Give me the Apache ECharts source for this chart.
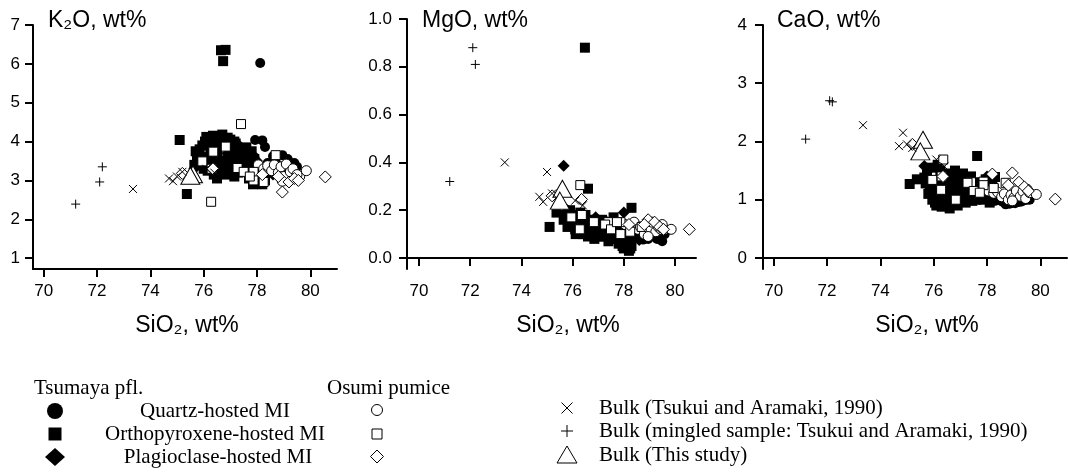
<!DOCTYPE html>
<html><head><meta charset="utf-8">
<script src="https://cdn.jsdelivr.net/npm/echarts@6/dist/echarts.min.js"></script>
<style>html,body{margin:0;padding:0;background:#fff}#c{width:1068px;height:475px}</style>
</head><body><div id="c"></div>
<script>
// ---- Tsumaya pfl. : quartz-hosted MI (filled circles)
const qtz_SiO2 = [78.12, 77.93, 78.20, 78.30, 78.60, 78.95, 79.15, 79.50, 77.50, 77.70, 77.90, 78.05, 78.40, 78.55, 78.75, 78.85, 79.05, 79.30, 79.40, 79.60, 78.25, 77.60, 78.70, 79.20];
const qtz_K2O  = [6.02, 4.04, 4.03, 3.86, 3.62, 3.65, 3.55, 3.35, 3.50, 3.35, 3.60, 3.25, 3.45, 3.20, 3.40, 3.10, 3.30, 3.15, 3.45, 3.10, 3.00, 3.80, 3.55, 3.25];
const qtz_MgO  = [0.10, 0.12, 0.11, 0.09, 0.10, 0.08, 0.09, 0.07, 0.13, 0.12, 0.11, 0.09, 0.08, 0.10, 0.077, 0.09, 0.10, 0.08, 0.09, 0.10, 0.12, 0.14, 0.11, 0.12];
const qtz_CaO  = [1.00, 1.05, 1.02, 0.98, 0.96, 0.95, 0.97, 1.00, 1.10, 1.08, 1.06, 1.03, 1.00, 0.98, 0.95, 0.93, 0.94, 0.97, 0.99, 1.00, 1.05, 1.12, 0.92, 0.96];

// ---- orthopyroxene-hosted MI (filled squares)
const opx_SiO2 = [75.10, 75.37, 76.65, 76.82, 76.73, 76.48, 77.63, 76.60, 78.30, 75.75, 75.85, 75.95, 76.05, 76.10, 76.20, 76.25, 76.30, 76.35, 76.40, 76.45, 76.55, 76.60, 76.70, 76.75, 76.80, 76.85, 76.90, 77.00, 77.05, 77.10, 77.20, 77.25, 77.30, 77.40, 77.45, 77.55, 77.65, 77.70, 77.80, 77.85, 77.95, 78.00, 78.10, 78.20, 78.30, 75.90, 76.15, 76.50, 77.15, 77.60,
                  75.65, 75.80, 76.00, 76.12, 76.28, 76.38, 76.52, 76.66, 76.78, 76.95, 77.08, 77.22, 77.35, 77.50, 77.75, 77.90, 78.05, 78.15, 78.25, 76.20, 76.90, 77.15, 76.40, 75.70];
const opx_K2O  = [4.04, 2.65, 6.35, 6.36, 6.07, 3.60, 3.30, 3.50, 3.05, 3.65, 3.80, 3.90, 4.00, 4.12, 3.95, 3.70, 3.50, 4.15, 3.30, 3.85, 4.10, 3.20, 4.18, 3.45, 3.90, 3.15, 3.60, 4.05, 3.35, 3.75, 3.95, 3.50, 3.20, 3.60, 3.40, 3.25, 3.55, 3.05, 3.75, 2.90, 3.15, 2.95, 3.30, 2.90, 3.00, 3.40, 3.25, 3.05, 3.10, 3.85,
                  3.40, 3.55, 3.30, 3.60, 3.85, 3.15, 3.70, 3.95, 3.30, 3.85, 3.55, 3.30, 3.80, 3.65, 3.40, 3.55, 3.10, 2.95, 3.20, 4.05, 4.10, 4.00, 3.95, 3.75];
const opx_MgO  = [0.13, 0.19, 0.15, 0.12, 0.13, 0.88, 0.11, 0.29, 0.21, 0.17, 0.15, 0.14, 0.18, 0.12, 0.16, 0.11, 0.19, 0.13, 0.10, 0.15, 0.12, 0.09, 0.14, 0.11, 0.16, 0.08, 0.13, 0.10, 0.15, 0.12, 0.09, 0.14, 0.11, 0.07, 0.13, 0.10, 0.08, 0.12, 0.06, 0.09, 0.05, 0.04, 0.07, 0.03, 0.05, 0.20, 0.17, 0.18, 0.16, 0.17,
                  0.16, 0.13, 0.15, 0.10, 0.14, 0.12, 0.10, 0.13, 0.12, 0.11, 0.09, 0.13, 0.10, 0.09, 0.08, 0.07, 0.06, 0.08, 0.04, 0.17, 0.15, 0.11, 0.14, 0.18];
const opx_CaO  = [1.27, 1.35, 1.10, 1.05, 1.20, 1.30, 1.75, 1.45, 1.39, 1.45, 1.20, 1.00, 0.95, 0.90, 1.30, 1.50, 0.88, 1.40, 1.10, 0.95, 1.25, 0.85, 1.35, 0.95, 1.50, 1.15, 0.90, 1.30, 1.00, 1.45, 0.95, 1.20, 1.05, 1.40, 0.98, 1.15, 1.30, 1.02, 1.20, 1.00, 1.35, 1.10, 0.95, 1.25, 1.05, 1.55, 1.60, 1.05, 1.10, 1.00,
                  1.38, 1.10, 1.25, 1.15, 1.02, 1.35, 0.92, 1.20, 1.08, 1.22, 1.35, 1.12, 1.25, 1.05, 1.10, 1.28, 1.15, 1.05, 1.18, 1.05, 1.40, 1.30, 0.98, 1.28];

// ---- plagioclase-hosted MI (filled diamonds)
const plg_SiO2 = [75.65, 77.37, 78.00, 76.90, 75.80, 78.60];
const plg_K2O  = [3.30, 3.87, 3.50, 3.70, 3.55, 3.15];
const plg_MgO  = [0.386, 0.15, 0.19, 0.17, 0.20, 0.075];
const plg_CaO  = [1.58, 1.35, 1.40, 1.45, 1.50, 1.05];

// ---- Osumi pumice : open circles
const osc_SiO2 = [78.05, 78.25, 78.40, 78.55, 78.65, 78.80, 78.90, 79.00, 79.10, 79.25, 79.35, 79.45, 79.60, 79.85, 78.95, 79.50];
const osc_K2O  = [3.40, 3.30, 3.38, 3.25, 3.40, 3.20, 3.35, 3.10, 3.42, 3.22, 3.30, 3.05, 3.10, 3.25, 2.98, 3.15];
const osc_MgO  = [0.14, 0.11, 0.15, 0.12, 0.13, 0.10, 0.14, 0.12, 0.15, 0.11, 0.13, 0.12, 0.12, 0.12, 0.09, 0.14];
const osc_CaO  = [1.15, 1.11, 1.13, 1.05, 1.10, 1.00, 1.08, 1.03, 1.15, 1.06, 1.14, 1.02, 1.12, 1.09, 0.98, 1.18];

// ---- Osumi pumice : open squares
const oss_SiO2 = [77.40, 76.28, 76.83, 76.36, 75.95, 77.27, 77.50, 77.87, 78.25, 77.87, 78.70, 76.30, 77.73];
const oss_K2O  = [4.45, 2.45, 3.87, 3.74, 3.49, 3.32, 3.22, 3.22, 2.96, 3.00, 3.65, 3.30, 3.10];
const oss_MgO  = [0.15, 0.12, 0.15, 0.18, 0.17, 0.14, 0.12, 0.15, 0.11, 0.10, 0.13, 0.305, 0.15];
const oss_CaO  = [1.30, 1.17, 1.00, 1.69, 1.34, 1.29, 1.15, 1.31, 1.20, 1.25, 1.29, 1.40, 1.12];

// ---- Osumi pumice : open diamonds
const osd_SiO2 = [80.56, 78.95, 79.20, 76.35, 75.20, 78.20, 79.40, 79.55, 78.80];
const osd_K2O  = [3.09, 2.70, 2.96, 3.30, 3.18, 3.15, 3.05, 3.00, 3.10];
const osd_MgO  = [0.12, 0.16, 0.15, 0.245, 0.26, 0.14, 0.13, 0.12, 0.14];
const osd_CaO  = [1.01, 1.46, 1.30, 1.40, 1.95, 1.44, 1.22, 1.15, 1.25];

// ---- Bulk (This study) : open triangles
const bts_SiO2 = [75.60, 75.50];
const bts_K2O  = [3.16, 3.12];
const bts_MgO  = [0.29, 0.24];
const bts_CaO  = [2.03, 1.83];

// ---- Bulk (Tsukui and Aramaki, 1990) : crosses
const tsk_SiO2 = [73.35, 74.70, 74.85, 75.00, 75.20, 76.10, 76.40];
const tsk_K2O  = [2.78, 3.05, 2.98, 3.10, 3.22, 3.30, 3.20];
const tsk_MgO  = [0.40, 0.256, 0.235, 0.36, 0.27, 0.24, 0.22];
const tsk_CaO  = [2.28, 1.92, 2.15, 1.95, 1.89, 1.69, 1.57];

// ---- Bulk (mingled sample) : plus
const mng_SiO2 = [71.20, 72.10, 72.20];
const mng_K2O  = [2.39, 2.96, 3.35];
const mng_MgO  = [0.32, 0.88, 0.81];
const mng_CaO  = [2.04, 2.70, 2.68];

// ---- axes ticks
const xTicks = [70, 72, 74, 76, 78, 80];
const yTicksK2O = [1, 2, 3, 4, 5, 6, 7];
const yTicksMgO = [0.0, 0.2, 0.4, 0.6, 0.8, 1.0];
const yTicksCaO = [0, 1, 2, 3, 4];
const panelTitles = ['K\u2082O, wt%', 'MgO, wt%', 'CaO, wt%'];
const xName = 'SiO\u2082, wt%';

const SANS = '"Liberation Sans", Arial, sans-serif';
const SERIF = '"Liberation Serif", "Times New Roman", serif';

const groups = [
  {x: opx_SiO2, y: [opx_K2O, opx_MgO, opx_CaO], symbol: 'rect', size: 10, fill: '#000', stroke: '#000', bw: 0},
  {x: qtz_SiO2, y: [qtz_K2O, qtz_MgO, qtz_CaO], symbol: 'circle', size: 10, fill: '#000', stroke: '#000', bw: 0},
  {x: plg_SiO2, y: [plg_K2O, plg_MgO, plg_CaO], symbol: 'diamond', size: 12, fill: '#000', stroke: '#000', bw: 0},
  {x: osc_SiO2, y: [osc_K2O, osc_MgO, osc_CaO], symbol: 'circle', size: 10, fill: '#fff', stroke: '#000', bw: 1},
  {x: oss_SiO2, y: [oss_K2O, oss_MgO, oss_CaO], symbol: 'rect', size: 9, fill: '#fff', stroke: '#000', bw: 1},
  {x: osd_SiO2, y: [osd_K2O, osd_MgO, osd_CaO], symbol: 'diamond', size: 12, fill: '#fff', stroke: '#000', bw: 1},
  {x: bts_SiO2, y: [bts_K2O, bts_MgO, bts_CaO], symbol: 'triangle', size: [19, 17], fill: '#fff', stroke: '#000', bw: 1},
  {x: tsk_SiO2, y: [tsk_K2O, tsk_MgO, tsk_CaO], symbol: 'path://M0,0L10,10M10,0L0,10', size: 8, fill: 'transparent', stroke: '#000', bw: 1},
  {x: mng_SiO2, y: [mng_K2O, mng_MgO, mng_CaO], symbol: 'path://M5,0L5,10M0,5L10,5', size: 9, fill: 'transparent', stroke: '#000', bw: 1}
];

const grids = [
  {left: 33, top: 25, width: 304, height: 244},
  {left: 407, top: 19, width: 289, height: 250},
  {left: 763, top: 25, width: 304, height: 244}
];
const xRanges = [[69.6, 81.0], [69.53, 80.82], [69.6, 81.0]];
const yRanges = [[0.72, 7], [-0.046, 1.0], [-0.19, 4]];
const yTickSets = [yTicksK2O, yTicksMgO, yTicksCaO];
const yLabelMargins = [13, 15, 16];

const axisLine = {show: true, lineStyle: {color: '#000', width: 2}};
const axisTick = (vals) => ({show: true, inside: false, length: 8, customValues: vals, lineStyle: {color: '#000', width: 2}});

const xAxis = grids.map((g, i) => ({
  type: 'value', gridIndex: i, min: xRanges[i][0], max: xRanges[i][1],
  axisLine, axisTick: axisTick(xTicks), splitLine: {show: false},
  axisLabel: {customValues: xTicks, margin: 14, color: '#000', fontSize: 17, fontFamily: SANS}
}));
const yAxis = grids.map((g, i) => ({
  type: 'value', gridIndex: i, min: yRanges[i][0], max: yRanges[i][1],
  axisLine, axisTick: axisTick(yTickSets[i]), splitLine: {show: false},
  axisLabel: {customValues: yTickSets[i], margin: yLabelMargins[i], color: '#000', fontSize: 17, fontFamily: SANS,
    formatter: (v) => i === 1 ? Number(v).toFixed(1) : String(Math.round(v))}
}));

const series = [];
for (let p = 0; p < 3; p++) {
  groups.forEach((g) => {
    series.push({
      type: 'scatter', xAxisIndex: p, yAxisIndex: p,
      data: g.x.map((v, i) => [v, g.y[p][i]]),
      symbol: g.symbol, symbolSize: g.size,
      itemStyle: {color: g.fill, borderColor: g.stroke, borderWidth: g.bw, opacity: 1},
      emphasis: {disabled: true}, silent: true, animation: false
    });
  });
}

function txt(x, y, s, font, align) {
  return {type: 'text', x, y, silent: true,
    style: {text: s, font, fill: '#000', align: align || 'left', verticalAlign: 'middle',
            textAlign: align || 'left', textVerticalAlign: 'middle'}};
}
const T = '23px ' + SANS;
const L = '21px ' + SERIF;
const graphic = [
  txt(48, 21, panelTitles[0], T), txt(422, 21, panelTitles[1], T), txt(777, 21, panelTitles[2], T),
  txt(187, 326, xName, T, 'center'), txt(568, 326, xName, T, 'center'), txt(927, 326, xName, T, 'center'),
  // legend left
  txt(34, 388, 'Tsumaya pfl.', L), txt(327, 388, 'Osumi pumice', L),
  txt(215, 411, 'Quartz-hosted MI', L, 'center'),
  txt(215, 434, 'Orthopyroxene-hosted MI', L, 'center'),
  txt(218, 457, 'Plagioclase-hosted MI', L, 'center'),
  {type: 'circle', silent: true, shape: {cx: 55, cy: 411, r: 8}, style: {fill: '#000'}},
  {type: 'rect', silent: true, shape: {x: 48.5, y: 427.5, width: 13, height: 13}, style: {fill: '#000'}},
  {type: 'polygon', silent: true, shape: {points: [[55, 448], [65, 457], [55, 466], [45, 457]]}, style: {fill: '#000'}},
  {type: 'circle', silent: true, shape: {cx: 377, cy: 410, r: 5.5}, style: {fill: '#fff', stroke: '#000', lineWidth: 1}},
  {type: 'rect', silent: true, shape: {x: 372, y: 429, width: 10, height: 10}, style: {fill: '#fff', stroke: '#000', lineWidth: 1}},
  {type: 'polygon', silent: true, shape: {points: [[377, 450], [383.5, 456.5], [377, 463], [370.5, 456.5]]}, style: {fill: '#fff', stroke: '#000', lineWidth: 1}},
  // legend right
  {type: 'polyline', silent: true, shape: {points: [[561.5, 402.5], [572.5, 413.5]]}, style: {stroke: '#000', lineWidth: 1, fill: null}},
  {type: 'polyline', silent: true, shape: {points: [[572.5, 402.5], [561.5, 413.5]]}, style: {stroke: '#000', lineWidth: 1, fill: null}},
  {type: 'polyline', silent: true, shape: {points: [[567, 425], [567, 437]]}, style: {stroke: '#000', lineWidth: 1, fill: null}},
  {type: 'polyline', silent: true, shape: {points: [[561, 431], [573, 431]]}, style: {stroke: '#000', lineWidth: 1, fill: null}},
  {type: 'polygon', silent: true, shape: {points: [[567, 446], [577, 463], [557, 463]]}, style: {fill: '#fff', stroke: '#000', lineWidth: 1}},
  txt(599, 408, 'Bulk (Tsukui and Aramaki, 1990)', L),
  txt(599, 431, 'Bulk (mingled sample: Tsukui and Aramaki, 1990)', L),
  txt(599, 455, 'Bulk (This study)', L)
];

const chart = echarts.init(document.getElementById('c'), null, {renderer: 'canvas'});
chart.setOption({
  backgroundColor: '#fff', animation: false,
  grid: grids, xAxis, yAxis, series, graphic
});
</script></body></html>
